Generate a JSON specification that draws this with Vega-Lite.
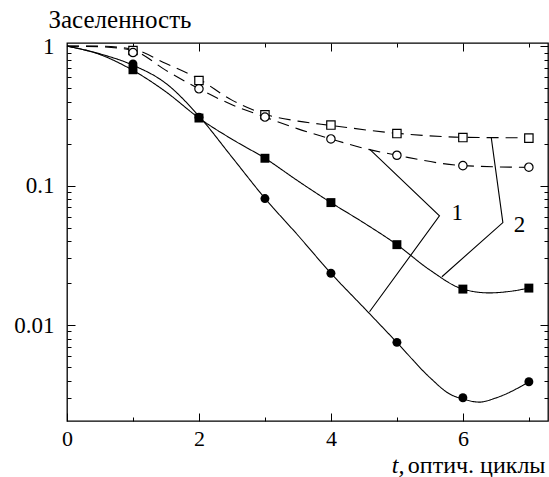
{
  "$schema": "https://vega.github.io/schema/vega-lite/v6.json",
  "autosize": {"type": "none"},
  "padding": {"left": 67, "top": 43, "right": 1, "bottom": 56},
  "width": 481,
  "height": 378,
  "background": "white",
  "config": {
    "view": {"stroke": "black", "strokeWidth": 1.3},
    "font": "Liberation Serif",
    "axis": {"labelFont": "Liberation Serif", "titleFont": "Liberation Serif", "labelColor": "black", "titleColor": "black", "tickColor": "black", "titleFontWeight": "normal", "grid": false, "domain": false, "tickWidth": 1}
  },
  "datasets": {
    "curves": [
      {"t": 0, "v": 1, "s": "c1", "st": "solid"},
      {"t": 0.5, "v": 0.88, "s": "c1", "st": "solid"},
      {"t": 1, "v": 0.73, "s": "c1", "st": "solid"},
      {"t": 1.5, "v": 0.54, "s": "c1", "st": "solid"},
      {"t": 2, "v": 0.315, "s": "c1", "st": "solid"},
      {"t": 2.5, "v": 0.16, "s": "c1", "st": "solid"},
      {"t": 3, "v": 0.081, "s": "c1", "st": "solid"},
      {"t": 3.5, "v": 0.044, "s": "c1", "st": "solid"},
      {"t": 4, "v": 0.0235, "s": "c1", "st": "solid"},
      {"t": 4.5, "v": 0.0133, "s": "c1", "st": "solid"},
      {"t": 5, "v": 0.0075, "s": "c1", "st": "solid"},
      {"t": 5.5, "v": 0.0042, "s": "c1", "st": "solid"},
      {"t": 5.8, "v": 0.0032, "s": "c1", "st": "solid"},
      {"t": 6, "v": 0.00295, "s": "c1", "st": "solid"},
      {"t": 6.25, "v": 0.0028, "s": "c1", "st": "solid"},
      {"t": 6.5, "v": 0.003, "s": "c1", "st": "solid"},
      {"t": 7, "v": 0.0039, "s": "c1", "st": "solid"},
      {"t": 0, "v": 1, "s": "s1", "st": "solid"},
      {"t": 0.5, "v": 0.87, "s": "s1", "st": "solid"},
      {"t": 1, "v": 0.67, "s": "s1", "st": "solid"},
      {"t": 1.5, "v": 0.47, "s": "s1", "st": "solid"},
      {"t": 2, "v": 0.305, "s": "s1", "st": "solid"},
      {"t": 2.5, "v": 0.215, "s": "s1", "st": "solid"},
      {"t": 3, "v": 0.157, "s": "s1", "st": "solid"},
      {"t": 3.5, "v": 0.108, "s": "s1", "st": "solid"},
      {"t": 4, "v": 0.0755, "s": "s1", "st": "solid"},
      {"t": 4.5, "v": 0.054, "s": "s1", "st": "solid"},
      {"t": 5, "v": 0.0377, "s": "s1", "st": "solid"},
      {"t": 5.5, "v": 0.0248, "s": "s1", "st": "solid"},
      {"t": 6, "v": 0.0181, "s": "s1", "st": "solid"},
      {"t": 6.4, "v": 0.017, "s": "s1", "st": "solid"},
      {"t": 6.7, "v": 0.0174, "s": "s1", "st": "solid"},
      {"t": 7, "v": 0.0184, "s": "s1", "st": "solid"},
      {"t": 0, "v": 1, "s": "s2", "st": "dashed"},
      {"t": 0.5, "v": 1.0, "s": "s2", "st": "dashed"},
      {"t": 1, "v": 0.95, "s": "s2", "st": "dashed"},
      {"t": 1.5, "v": 0.75, "s": "s2", "st": "dashed"},
      {"t": 2, "v": 0.58, "s": "s2", "st": "dashed"},
      {"t": 2.5, "v": 0.41, "s": "s2", "st": "dashed"},
      {"t": 3, "v": 0.325, "s": "s2", "st": "dashed"},
      {"t": 3.5, "v": 0.29, "s": "s2", "st": "dashed"},
      {"t": 4, "v": 0.27, "s": "s2", "st": "dashed"},
      {"t": 5, "v": 0.237, "s": "s2", "st": "dashed"},
      {"t": 6, "v": 0.222, "s": "s2", "st": "dashed"},
      {"t": 7, "v": 0.22, "s": "s2", "st": "dashed"},
      {"t": 0, "v": 1, "s": "c2", "st": "dashed"},
      {"t": 0.5, "v": 0.99, "s": "c2", "st": "dashed"},
      {"t": 1, "v": 0.93, "s": "c2", "st": "dashed"},
      {"t": 1.5, "v": 0.67, "s": "c2", "st": "dashed"},
      {"t": 2, "v": 0.494, "s": "c2", "st": "dashed"},
      {"t": 2.5, "v": 0.38, "s": "c2", "st": "dashed"},
      {"t": 3, "v": 0.31, "s": "c2", "st": "dashed"},
      {"t": 3.5, "v": 0.255, "s": "c2", "st": "dashed"},
      {"t": 4, "v": 0.216, "s": "c2", "st": "dashed"},
      {"t": 4.5, "v": 0.185, "s": "c2", "st": "dashed"},
      {"t": 5, "v": 0.165, "s": "c2", "st": "dashed"},
      {"t": 6, "v": 0.139, "s": "c2", "st": "dashed"},
      {"t": 7, "v": 0.135, "s": "c2", "st": "dashed"}
    ],
    "leaders": [
      {"t": 4.585, "v": 0.1826, "id": "1", "o": 1},
      {"t": 5.645, "v": 0.0606, "id": "1", "o": 2},
      {"t": 4.585, "v": 0.01246, "id": "1", "o": 3},
      {"t": 6.429, "v": 0.2226, "id": "2", "o": 1},
      {"t": 6.606, "v": 0.0543, "id": "2", "o": 2},
      {"t": 5.682, "v": 0.0222, "id": "2", "o": 3}
    ],
    "open": [
      {"t": 1, "v": 0.93, "shape": "square"},
      {"t": 2, "v": 0.567, "shape": "square"},
      {"t": 3, "v": 0.322, "shape": "square"},
      {"t": 4, "v": 0.2715, "shape": "square"},
      {"t": 5, "v": 0.236, "shape": "square"},
      {"t": 6, "v": 0.221, "shape": "square"},
      {"t": 7, "v": 0.219, "shape": "square"},
      {"t": 1, "v": 0.9, "shape": "circle"},
      {"t": 2, "v": 0.494, "shape": "circle"},
      {"t": 3, "v": 0.31, "shape": "circle"},
      {"t": 4, "v": 0.216, "shape": "circle"},
      {"t": 5, "v": 0.165, "shape": "circle"},
      {"t": 6, "v": 0.139, "shape": "circle"},
      {"t": 7, "v": 0.1355, "shape": "circle"}
    ],
    "filled": [
      {"t": 1, "v": 0.677, "shape": "square"},
      {"t": 2, "v": 0.305, "shape": "square"},
      {"t": 3, "v": 0.157, "shape": "square"},
      {"t": 4, "v": 0.0755, "shape": "square"},
      {"t": 5, "v": 0.0377, "shape": "square"},
      {"t": 6, "v": 0.0181, "shape": "square"},
      {"t": 7, "v": 0.0184, "shape": "square"},
      {"t": 1, "v": 0.744, "shape": "circle"},
      {"t": 2, "v": 0.309, "shape": "circle"},
      {"t": 3, "v": 0.0807, "shape": "circle"},
      {"t": 4, "v": 0.0235, "shape": "circle"},
      {"t": 5, "v": 0.00751, "shape": "circle"},
      {"t": 6, "v": 0.00301, "shape": "circle"},
      {"t": 7, "v": 0.00392, "shape": "circle"}
    ],
    "labels": [
      {"t": 5.914, "v": 0.0637, "txt": "1"},
      {"t": 6.858, "v": 0.0522, "txt": "2"}
    ]
  },
  "layer": [
    {
      "data": {"name": "curves"},
      "mark": {"type": "line", "interpolate": "monotone", "color": "black", "strokeWidth": 1.1},
      "encoding": {
        "x": {"field": "t", "type": "quantitative", "scale": {"domain": [0, 7.29], "nice": false, "zero": false},
          "axis": {"orient": "bottom", "values": [0, 1, 2, 3, 4, 5, 6, 7],
            "labelExpr": "datum.value % 2 == 0 ? datum.label : ''",
            "tickSize": {"condition": {"test": "datum.value % 2 == 0", "value": -8}, "value": -4},
            "labelPadding": 15, "labelFont": "Liberation Serif", "labelFontSize": 22, "labelBaseline": "top", "labelFlush": false, "labelOverlap": false,
            "title": "оптич. циклы", "titleFont": "Liberation Serif", "titleFontSize": 24, "titleFontWeight": "normal", "titleAngle": 0, "titleX": 478, "titleY": 51, "titleAlign": "right", "titleBaseline": "alphabetic"}},
        "y": {"field": "v", "type": "quantitative", "scale": {"type": "log", "domain": [0.00205, 1.053], "nice": false},
          "axis": {"orient": "left",
            "values": [0.003, 0.004, 0.005, 0.006, 0.007, 0.008, 0.009, 0.01, 0.02, 0.03, 0.04, 0.05, 0.06, 0.07, 0.08, 0.09, 0.1, 0.2, 0.3, 0.4, 0.5, 0.6, 0.7, 0.8, 0.9, 1],
            "labelExpr": "datum.value == 1 ? '1' : datum.value == 0.1 ? '0.1' : datum.value == 0.01 ? '0.01' : ''",
            "tickSize": {"condition": {"test": "datum.value == 1 || datum.value == 0.1 || datum.value == 0.01", "value": -8}, "value": -4},
            "labelPadding": 21, "labelFont": "Liberation Serif", "labelFontSize": 23, "labelFlush": false, "labelOverlap": false, "labelBound": false,
            "title": "Заселенность", "titleFont": "Liberation Serif", "titleFontSize": 25, "titleFontWeight": "normal", "titleAngle": 0, "titleX": -19, "titleY": -16, "titleAlign": "left", "titleBaseline": "alphabetic"}},
        "detail": {"field": "s", "type": "nominal"},
        "strokeDash": {"field": "st", "type": "nominal", "scale": {"domain": ["solid", "dashed"], "range": [[1, 0], [12, 7]]}, "legend": null}
      }
    },
    {
      "data": {"name": "leaders"},
      "mark": {"type": "line", "color": "black", "strokeWidth": 1.1},
      "encoding": {
        "x": {"field": "t", "type": "quantitative",
          "axis": {"orient": "bottom", "labels": false, "ticks": false, "domain": false, "grid": false,
            "title": "t,", "titleFont": "Liberation Serif", "titleFontSize": 24, "titleFontWeight": "normal", "titleFontStyle": "italic", "titleAngle": 0, "titleX": 337, "titleY": 51, "titleAlign": "right", "titleBaseline": "alphabetic"}},
        "y": {"field": "v", "type": "quantitative",
          "axis": {"orient": "right",
            "values": [0.003, 0.004, 0.005, 0.006, 0.007, 0.008, 0.009, 0.01, 0.02, 0.03, 0.04, 0.05, 0.06, 0.07, 0.08, 0.09, 0.1, 0.2, 0.3, 0.4, 0.5, 0.6, 0.7, 0.8, 0.9, 1],
            "labels": false, "title": null,
            "tickSize": {"condition": {"test": "datum.value == 1 || datum.value == 0.1 || datum.value == 0.01", "value": -8}, "value": -4}}},
        "detail": {"field": "id", "type": "nominal"},
        "order": {"field": "o", "type": "quantitative"}
      }
    },
    {
      "data": {"name": "open"},
      "mark": {"type": "point", "filled": false, "fill": "white", "fillOpacity": 1, "stroke": "black", "strokeWidth": 1.2, "opacity": 1},
      "encoding": {
        "x": {"field": "t", "type": "quantitative",
          "axis": {"orient": "top", "values": [1, 2, 3, 4, 5, 6, 7], "labels": false, "title": null,
            "tickSize": {"condition": {"test": "datum.value % 2 == 0", "value": -8}, "value": -4}}},
        "y": {"field": "v", "type": "quantitative", "axis": null},
        "shape": {"field": "shape", "type": "nominal", "scale": {"domain": ["circle", "square"], "range": ["circle", "square"]}, "legend": null},
        "size": {"value": 70}
      }
    },
    {
      "data": {"name": "filled"},
      "mark": {"type": "point", "filled": true, "color": "black", "opacity": 1},
      "encoding": {
        "x": {"field": "t", "type": "quantitative", "axis": null},
        "y": {"field": "v", "type": "quantitative", "axis": null},
        "shape": {"field": "shape", "type": "nominal", "scale": {"domain": ["circle", "square"], "range": ["circle", "square"]}, "legend": null},
        "size": {"value": 80}
      }
    },
    {
      "data": {"name": "labels"},
      "mark": {"type": "text", "font": "Liberation Serif", "fontSize": 23, "color": "black", "align": "center", "baseline": "middle"},
      "encoding": {
        "x": {"field": "t", "type": "quantitative", "axis": null},
        "y": {"field": "v", "type": "quantitative", "axis": null},
        "text": {"field": "txt", "type": "nominal"}
      }
    }
  ],
  "resolve": {"axis": {"x": "independent", "y": "independent"}}
}
